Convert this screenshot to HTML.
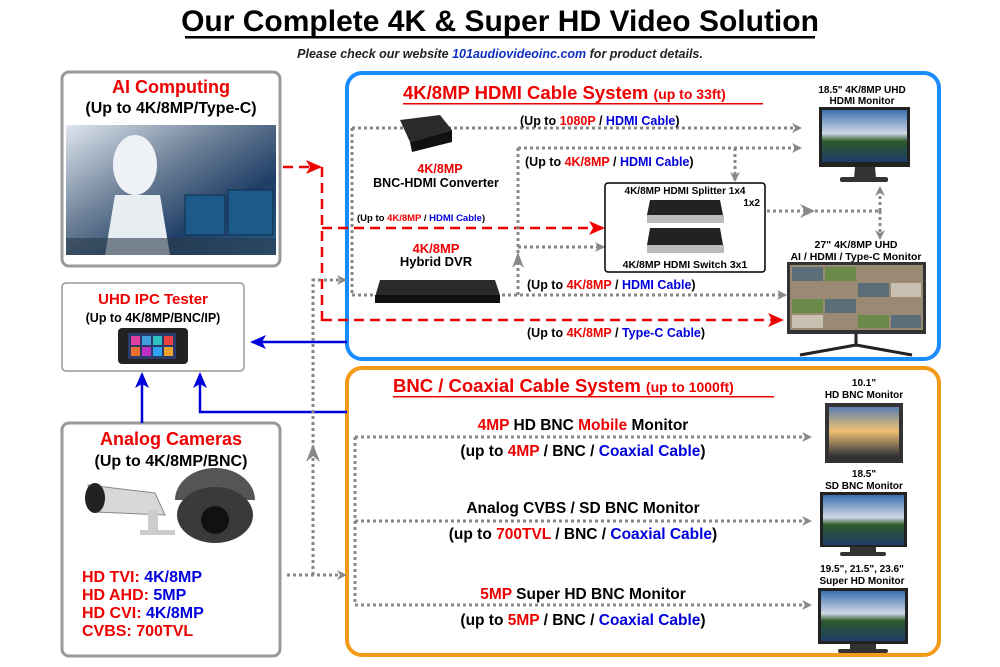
<!DOCTYPE html>
<html><head><meta charset="utf-8"><style>
html,body{margin:0;padding:0;background:#fff;}
svg{display:block;font-family:"Liberation Sans",Arial,sans-serif;font-weight:bold;}
</style></head><body>
<svg width="1000" height="667" viewBox="0 0 1000 667" xmlns="http://www.w3.org/2000/svg">
<defs>
<marker id="ag" markerWidth="10" markerHeight="10" refX="8" refY="5" orient="auto" markerUnits="userSpaceOnUse"><path d="M0,0 L10,5 L0,10 L3,5z" fill="#888"/></marker>
<marker id="ar" markerWidth="16" markerHeight="14" refX="14" refY="7" orient="auto" markerUnits="userSpaceOnUse"><path d="M0,0 L16,7 L0,14 L4,7z" fill="#e00"/></marker>
<marker id="ab" markerWidth="16" markerHeight="14" refX="14" refY="7" orient="auto" markerUnits="userSpaceOnUse"><path d="M0,0 L16,7 L0,14 L4,7z" fill="#00d"/></marker>
<linearGradient id="sky" x1="0" y1="0" x2="0" y2="1"><stop offset="0" stop-color="#3b6fb0"/><stop offset=".45" stop-color="#cfd9e6"/><stop offset=".6" stop-color="#2d5a2a"/><stop offset="1" stop-color="#1e3c6a"/></linearGradient>
<linearGradient id="sun" x1="0" y1="0" x2="0" y2="1"><stop offset="0" stop-color="#5a7fb0"/><stop offset=".5" stop-color="#f0c070"/><stop offset="1" stop-color="#3a3a40"/></linearGradient>
<linearGradient id="robot" x1="0" y1="0" x2="1" y2="1"><stop offset="0" stop-color="#dfe6ee"/><stop offset=".4" stop-color="#6a7e96"/><stop offset=".7" stop-color="#1f3e66"/><stop offset="1" stop-color="#2a6090"/></linearGradient>
</defs>

<!-- Title -->
<text x="500" y="31" text-anchor="middle" font-size="30" fill="#000">Our Complete 4K &amp; Super HD Video Solution</text>
<rect x="185" y="36" width="630" height="2.5" fill="#000"/>
<text x="500" y="58" text-anchor="middle" font-size="12.5" font-style="italic" fill="#222">Please check our website <tspan fill="#1030c0">101audiovideoinc.com</tspan> for product details.</text>

<!-- AI box -->
<rect x="62" y="72" width="218" height="194" rx="7" fill="#fff" stroke="#999" stroke-width="3"/>
<text x="171" y="93" text-anchor="middle" font-size="18" fill="#e00">AI Computing</text>
<text x="171" y="113" text-anchor="middle" font-size="16" fill="#000">(Up to 4K/8MP/Type-C)</text>
<rect x="66" y="125" width="210" height="130" fill="url(#robot)"/>
<ellipse cx="135" cy="165" rx="22" ry="30" fill="#eef2f6"/>
<path d="M115,195 L160,195 L170,255 L105,255Z" fill="#e8edf2"/>
<rect x="185" y="195" width="40" height="40" fill="#1c5a8a" stroke="#0d2d4a"/>
<rect x="228" y="190" width="45" height="45" fill="#1c5a8a" stroke="#0d2d4a"/>
<rect x="66" y="238" width="210" height="17" fill="#2a3a4a" opacity=".6"/>

<!-- IPC tester -->
<rect x="62" y="283" width="182" height="88" rx="4" fill="#fff" stroke="#999" stroke-width="1.5"/>
<text x="153" y="304" text-anchor="middle" font-size="15" fill="#e00">UHD IPC Tester</text>
<text x="153" y="322" text-anchor="middle" font-size="12.5" fill="#000">(Up to 4K/8MP/BNC/IP)</text>
<rect x="118" y="328" width="70" height="36" rx="4" fill="#222"/>
<rect x="128" y="333" width="48" height="26" fill="#2a3a6a"/>
<rect x="131" y="336" width="9" height="9" fill="#e040a0"/><rect x="142" y="336" width="9" height="9" fill="#40a0e0"/><rect x="153" y="336" width="9" height="9" fill="#30c0c0"/><rect x="164" y="336" width="9" height="9" fill="#f04040"/>
<rect x="131" y="347" width="9" height="9" fill="#f07030"/><rect x="142" y="347" width="9" height="9" fill="#c030c0"/><rect x="153" y="347" width="9" height="9" fill="#30a0f0"/><rect x="164" y="347" width="9" height="9" fill="#f0a030"/>

<!-- Analog cameras -->
<rect x="62" y="423" width="218" height="233" rx="7" fill="#fff" stroke="#999" stroke-width="3"/>
<text x="171" y="445" text-anchor="middle" font-size="18" fill="#e00">Analog Cameras</text>
<text x="171" y="466" text-anchor="middle" font-size="16" fill="#000">(Up to 4K/8MP/BNC)</text>
<path d="M88,485 L155,493 L165,515 L95,512 Z" fill="#d8d8d8" stroke="#888"/>
<ellipse cx="95" cy="498" rx="10" ry="15" fill="#222"/>
<rect x="148" y="510" width="10" height="22" fill="#ccc"/><rect x="140" y="530" width="35" height="5" fill="#ccc"/>
<path d="M175,500 A40,32 0 0 1 255,500 Z" fill="#555"/>
<ellipse cx="215" cy="515" rx="38" ry="28" fill="#3a3a3a"/>
<circle cx="215" cy="520" r="14" fill="#111"/>
<text x="82" y="582" font-size="16" fill="#e00">HD TVI: <tspan fill="#00d">4K/8MP</tspan></text>
<text x="82" y="600" font-size="16" fill="#e00">HD AHD: <tspan fill="#00d">5MP</tspan></text>
<text x="82" y="618" font-size="16" fill="#e00">HD CVI: <tspan fill="#00d">4K/8MP</tspan></text>
<text x="82" y="636" font-size="16" fill="#e00">CVBS: 700TVL</text>

<!-- Blue box -->
<rect x="347" y="73" width="592" height="286" rx="15" fill="none" stroke="#1a8cff" stroke-width="4"/>
<!-- Orange box -->
<rect x="347" y="368" width="592" height="287" rx="15" fill="none" stroke="#f39a1a" stroke-width="4"/>

<!-- Connections left side -->
<g fill="none" stroke="#e00" stroke-width="2.5" stroke-dasharray="10,6">
<path d="M283,167 L320,167" marker-end="url(#ar)"/>
<path d="M322,167 L322,322"/>
<path d="M322,228 L603,228" marker-end="url(#ar)"/>
<path d="M322,320 L782,320" marker-end="url(#ar)"/>
</g>
<g fill="none" stroke="#00d" stroke-width="2.5">
<path d="M347,342 L252,342" marker-end="url(#ab)"/>
<path d="M347,412 L200,412 L200,374" marker-end="url(#ab)"/>
<path d="M142,423 L142,374" marker-end="url(#ab)"/>
</g>
<g fill="none" stroke="#888" stroke-width="3" stroke-dasharray="3,3">
<path d="M287,575 L345,575" marker-end="url(#ag)"/>
<path d="M313,575 L313,280 L345,280" marker-end="url(#ag)"/>
</g>
<path d="M306,462 L313,444 L320,462 L313,456Z" fill="#888"/>

<!-- Blue box content -->
<text x="403" y="99" font-size="18.5" fill="#e00">4K/8MP HDMI Cable System <tspan font-size="14">(up to 33ft)</tspan></text>
<rect x="403" y="103" width="360" height="1.5" fill="#e00"/>
<g fill="none" stroke="#888" stroke-width="3" stroke-dasharray="3,3">
<path d="M352,128 L352,295"/>
<path d="M352,128 L800,128" marker-end="url(#ag)"/>
<path d="M352,295 L785,295" marker-end="url(#ag)"/>
<path d="M518,148 L518,295"/>
<path d="M518,148 L800,148" marker-end="url(#ag)"/>
<path d="M518,247 L603,247" marker-end="url(#ag)"/>
<path d="M735,148 L735,180" marker-end="url(#ag)"/>
<path d="M767,211 L878,211"/>
<path d="M880,211 L880,188" marker-end="url(#ag)"/>
<path d="M880,211 L880,238" marker-end="url(#ag)"/>
</g>
<path d="M800,204 L815,211 L800,218 L805,211Z" fill="#888"/>
<path d="M512,268 L518,252 L524,268 L518,263Z" fill="#888"/>

<!-- converter -->
<path d="M400,120 L440,115 L452,130 L410,142Z" fill="#2a2a2a"/><path d="M410,142 L452,130 L452,142 L412,152Z" fill="#111"/>
<text x="440" y="173" text-anchor="middle" font-size="12.5" fill="#e00">4K/8MP</text>
<text x="436" y="187" text-anchor="middle" font-size="12.5" fill="#000">BNC-HDMI Converter</text>
<text x="357" y="221" font-size="9.5" fill="#000">(Up to <tspan fill="#e00">4K/8MP</tspan> / <tspan fill="#00d">HDMI Cable</tspan>)</text>
<!-- DVR -->
<text x="436" y="253" text-anchor="middle" font-size="13" fill="#e00">4K/8MP</text>
<text x="436" y="266" text-anchor="middle" font-size="13" fill="#000">Hybrid DVR</text>
<path d="M380,280 L495,280 L500,295 L375,297Z" fill="#2a2a2a"/><rect x="375" y="295" width="125" height="8" fill="#111"/>

<text x="520" y="125" font-size="12.5" fill="#000">(Up to <tspan fill="#e00">1080P</tspan> / <tspan fill="#00d">HDMI Cable</tspan>)</text>
<text x="525" y="166" font-size="12.5" fill="#000">(Up to <tspan fill="#e00">4K/8MP</tspan> / <tspan fill="#00d">HDMI Cable</tspan>)</text>
<text x="527" y="289" font-size="12.5" fill="#000">(Up to <tspan fill="#e00">4K/8MP</tspan> / <tspan fill="#00d">HDMI Cable</tspan>)</text>
<text x="527" y="337" font-size="12.5" fill="#000">(Up to <tspan fill="#e00">4K/8MP</tspan> / <tspan fill="#00d">Type-C Cable</tspan>)</text>

<!-- splitter -->
<rect x="605" y="183" width="160" height="89" rx="3" fill="#fff" stroke="#000" stroke-width="1.5"/>
<text x="685" y="194" text-anchor="middle" font-size="10" fill="#000">4K/8MP HDMI Splitter 1x4</text>
<text x="760" y="206" text-anchor="end" font-size="10" fill="#000">1x2</text>
<path d="M650,200 L720,200 L723,215 L647,215Z" fill="#222"/><rect x="647" y="215" width="77" height="8" fill="#bbb"/>
<path d="M650,228 L720,228 L723,245 L647,245Z" fill="#222"/><rect x="647" y="245" width="77" height="8" fill="#bbb"/>
<text x="685" y="268" text-anchor="middle" font-size="10.5" fill="#000">4K/8MP HDMI Switch 3x1</text>

<!-- monitor 1 -->
<text x="862" y="93" text-anchor="middle" font-size="10" fill="#000">18.5" 4K/8MP UHD</text>
<text x="862" y="104" text-anchor="middle" font-size="10" fill="#000">HDMI Monitor</text>
<rect x="819" y="107" width="91" height="60" fill="#222"/>
<rect x="822" y="110" width="85" height="52" fill="url(#sky)"/>
<path d="M855,167 L875,167 L876,178 L854,178Z" fill="#333"/>
<rect x="840" y="177" width="48" height="5" rx="2" fill="#333"/>
<!-- monitor 2 -->
<text x="856" y="248" text-anchor="middle" font-size="10.5" fill="#000">27" 4K/8MP UHD</text>
<text x="856" y="260" text-anchor="middle" font-size="10.5" fill="#000">AI / HDMI / Type-C Monitor</text>
<rect x="787" y="262" width="139" height="72" fill="#333"/>
<rect x="790" y="265" width="133" height="65" fill="#9a8a74"/>
<g fill="#5a6e7a"><rect x="792" y="267" width="31" height="14"/><rect x="858" y="283" width="31" height="14"/><rect x="825" y="299" width="31" height="14"/><rect x="891" y="315" width="30" height="13"/></g>
<g fill="#6a8a4a"><rect x="825" y="267" width="31" height="14"/><rect x="792" y="299" width="31" height="14"/><rect x="858" y="315" width="31" height="13"/></g>
<g fill="#c8c0b0"><rect x="891" y="283" width="30" height="14"/><rect x="792" y="315" width="31" height="13"/></g>
<path d="M856,334 L856,345 M856,345 L800,355 M856,345 L912,355" stroke="#222" stroke-width="3" fill="none"/>

<!-- Orange box content -->
<text x="393" y="392" font-size="18.5" fill="#e00">BNC / Coaxial Cable System <tspan font-size="14">(up to 1000ft)</tspan></text>
<rect x="393" y="396" width="381" height="1.5" fill="#e00"/>
<g fill="none" stroke="#888" stroke-width="3" stroke-dasharray="3,3">
<path d="M355,437 L355,605"/>
<path d="M355,437 L810,437" marker-end="url(#ag)"/>
<path d="M355,521 L810,521" marker-end="url(#ag)"/>
<path d="M355,605 L810,605" marker-end="url(#ag)"/>
</g>
<g text-anchor="middle" font-size="15.5" fill="#000">
<text x="583" y="430"><tspan fill="#e00">4MP</tspan> HD BNC <tspan fill="#e00">Mobile</tspan> Monitor</text>
<text x="583" y="456">(up to <tspan fill="#e00">4MP</tspan> / BNC / <tspan fill="#00d">Coaxial Cable</tspan>)</text>
<text x="583" y="513">Analog CVBS / SD BNC Monitor</text>
<text x="583" y="539">(up to <tspan fill="#e00">700TVL</tspan> / BNC / <tspan fill="#00d">Coaxial Cable</tspan>)</text>
<text x="583" y="599"><tspan fill="#e00">5MP</tspan> Super HD BNC Monitor</text>
<text x="583" y="625">(up to <tspan fill="#e00">5MP</tspan> / BNC / <tspan fill="#00d">Coaxial Cable</tspan>)</text>
</g>
<g text-anchor="middle" font-size="10" fill="#000">
<text x="864" y="386">10.1"</text><text x="864" y="398">HD BNC Monitor</text>
<text x="864" y="477">18.5"</text><text x="864" y="489">SD BNC Monitor</text>
<text x="862" y="572">19.5", 21.5", 23.6"</text><text x="862" y="584">Super HD Monitor</text>
</g>
<rect x="825" y="403" width="78" height="60" fill="#333"/><rect x="829" y="407" width="70" height="48" fill="url(#sun)"/>
<rect x="820" y="492" width="87" height="55" fill="#222"/><rect x="823" y="495" width="81" height="50" fill="url(#sky)"/>
<rect x="850" y="547" width="26" height="6" fill="#333"/><rect x="840" y="552" width="46" height="4" rx="2" fill="#333"/>
<rect x="818" y="588" width="90" height="56" fill="#222"/><rect x="821" y="591" width="84" height="50" fill="url(#sky)"/>
<rect x="850" y="644" width="26" height="6" fill="#333"/><rect x="838" y="649" width="50" height="4" rx="2" fill="#333"/>
</svg>
</body></html>
